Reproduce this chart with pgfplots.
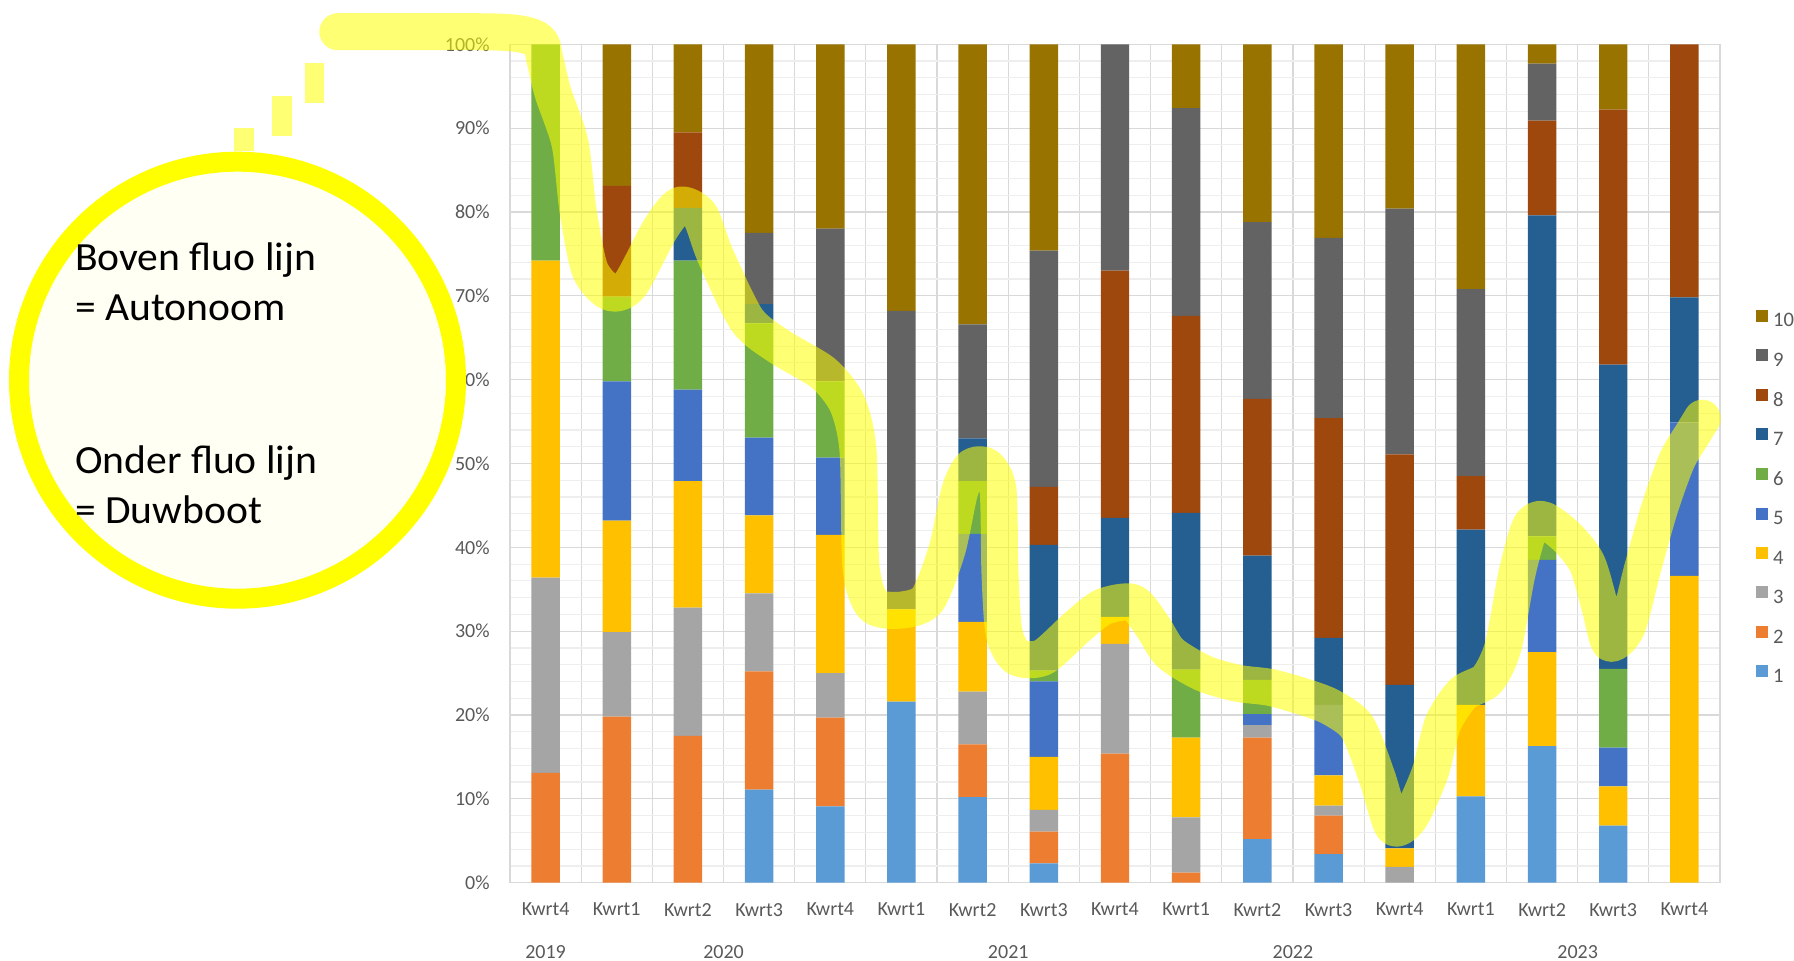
\documentclass[border=0pt]{standalone}
\usepackage{pgfplots}
\pgfplotsset{compat=1.18}
\usepackage{pgfplotstable}
\usepackage{fontspec}
\setmainfont{Carlito}
\newfontfamily\circfont[FakeStretch=1.04]{Carlito}
\definecolor{c1}{HTML}{5B9BD5}
\definecolor{c2}{HTML}{ED7D31}
\definecolor{c3}{HTML}{A5A5A5}
\definecolor{c4}{HTML}{FFC000}
\definecolor{c5}{HTML}{4472C4}
\definecolor{c6}{HTML}{70AD47}
\definecolor{c7}{HTML}{255E91}
\definecolor{c8}{HTML}{9E480E}
\definecolor{c9}{HTML}{636363}
\definecolor{c10}{HTML}{997300}
\definecolor{tickc}{HTML}{595959}
\definecolor{gmaj}{HTML}{D9D9D9}
\definecolor{gmin}{HTML}{EEEEEE}
\definecolor{hl}{HTML}{FFFF00}
\definecolor{cfill}{HTML}{FFFFF4}

\pgfplotstableread{
i  s1   s2   s3   s4   s5   s6   s7   s8   s9   s10
0  0    13.1 23.3 37.8 0    25.8 0    0    0    0
1  0    19.8 10.1 13.3 16.6 10.1 0    13.2 0    16.9
2  0    17.5 15.3 15.1 10.9 15.4 6.3  9.0  0    10.5
3  11.1 14.1 9.3  9.3  9.3  13.6 2.3  0    8.5  22.5
4  9.1  10.6 5.3  16.5 9.2  9.1  0    0    18.2 22.0
5  21.6 0    0    11.0 0    0    0    0    35.6 31.8
6  10.2 6.3  6.3  8.3  10.5 6.3  5.1  0    13.6 33.4
7  2.3  3.8  2.6  6.3  9.0  1.3  15.0 6.9  28.2 24.6
8  0    15.4 13.1 3.2  0    0    11.8 29.5 27.0 0
9  0    1.2  6.6  9.5  0    8.1  18.7 23.5 24.8 7.6
10 5.2  12.1 1.5  0    1.3  4.1  14.8 18.7 21.1 21.2
11 3.4  4.6  1.2  3.6  8.4  0    8.0  26.2 21.5 23.1
12 0    0    1.9  2.2  0    0    19.5 27.5 29.3 19.6
13 10.3 0    0    10.9 0    0    20.9 6.4  22.3 29.2
14 16.3 0    0    11.2 11.0 2.8  38.3 11.3 6.8  2.3
15 6.8  0    0    4.7  4.6  9.4  36.3 30.4 0    7.8
16 0    0    0    36.6 18.3 0    14.9 30.2 0    0
}\data

\begin{document}
\begin{tikzpicture}
\path[use as bounding box] (0,0) rectangle (897bp,480.5bp);
\begin{axis}[
  at={(255bp,39.15bp)}, anchor=south west,
  width=605bp, height=419.2bp, scale only axis,
  ybar stacked, bar width=0.4,
  xmin=-0.5, xmax=16.5, ymin=0, ymax=100,
  clip=false,
  xtick={0,...,16},
  xticklabels={Kwrt4,Kwrt1,Kwrt2,Kwrt3,Kwrt4,Kwrt1,Kwrt2,Kwrt3,Kwrt4,Kwrt1,Kwrt2,Kwrt3,Kwrt4,Kwrt1,Kwrt2,Kwrt3,Kwrt4},
  minor xtick={-0.5,0.5,...,16.5},
  ytick={0,10,...,100},
  minor ytick={2,4,6,8,12,14,16,18,22,24,26,28,32,34,36,38,42,44,46,48,52,54,56,58,62,64,66,68,72,74,76,78,82,84,86,88,92,94,96,98},
  yticklabel={\pgfmathparse{int(round(\tick))}\pgfmathresult\%},
  xminorgrids=true, ymajorgrids=true, yminorgrids=true,
  major y grid style={gmaj, line width=0.6bp},
  minor y grid style={gmin, line width=0.6bp},
  minor x grid style={gmaj, line width=0.6bp},
  axis line style={gmaj, line width=0.6bp},
  tick style={draw=none},
  ticklabel style={font=\fontsize{10bp}{12bp}\selectfont, text=tickc},
  yticklabel style={inner sep=0pt, anchor=east, xshift=-10bp},
  xticklabel style={inner sep=0pt, anchor=north, yshift=-10bp},
  legend image code/.code={\fill[#1] (0bp,0bp) rectangle (6bp,6bp);},
  reverse legend,
  legend cell align=left,
  legend style={draw=none, fill=none, at={(1,0.4594)}, anchor=west, xshift=18bp,
    inner sep=0pt, row sep=9.65bp, font=\fontsize{10.3bp}{12bp}\selectfont, text=tickc,
    nodes={inner sep=0pt}},
]
\addplot[fill=c1, draw=none] table[x=i,y=s1]{\data};
\addplot[fill=c2, draw=none] table[x=i,y=s2]{\data};
\addplot[fill=c3, draw=none] table[x=i,y=s3]{\data};
\addplot[fill=c4, draw=none] table[x=i,y=s4]{\data};
\addplot[fill=c5, draw=none] table[x=i,y=s5]{\data};
\addplot[fill=c6, draw=none] table[x=i,y=s6]{\data};
\addplot[fill=c7, draw=none] table[x=i,y=s7]{\data};
\addplot[fill=c8, draw=none] table[x=i,y=s8]{\data};
\addplot[fill=c9, draw=none] table[x=i,y=s9]{\data};
\addplot[fill=c10, draw=none] table[x=i,y=s10]{\data};
\legend{\ 1,\ 2,\ 3,\ 4,\ 5,\ 6,\ 7,\ 8,\ 9,\ 10}
\foreach \yr/\xx in {2019/0,2020/2.5,2021/6.5,2022/10.5,2023/14.5}{
  \edef\temp{\noexpand\node[anchor=north, inner sep=0pt, yshift=-31bp, text=tickc, font=\noexpand\fontsize{10bp}{12bp}\noexpand\selectfont] at (axis cs:\xx,0) {\yr};}
  \temp
}
\end{axis}
\begin{axis}[
  at={(255bp,39.15bp)}, anchor=south west,
  width=605bp, height=419.2bp, scale only axis,
  xmin=-0.5, xmax=16.5, ymin=0, ymax=100,
  axis lines=none, ticks=none, clip=false,
]
\addplot[hl, opacity=0.55, line width=18.5bp, smooth, tension=0.45, line cap=round, line join=round, no marks] coordinates {
(-2.92,101.5) (-0.64,101.45) (-0.107,100.5) (-0.008,98.1) (0.104,94.2) (0.343,88.2) (0.455,80.2) (0.624,73.1) (0.905,70.4) (1.186,71.3) (1.607,77.9) (1.888,80.8) (2.169,79.6) (2.380,74.9) (2.830,67.1) (3.293,63.9) (3.898,60.8) (4.235,57.2) (4.389,51.6) (4.431,37.7) (4.600,33.1) (4.979,32.5) (5.359,33.7) (5.640,39.7) (5.822,46.8) (5.991,49.6) (6.202,49.6) (6.356,46.8) (6.384,36.9) (6.441,29.8) (6.623,26.9) (6.989,26.9) (7.466,30.5) (7.831,32.9) (8.253,33.4) (8.534,30.5) (8.773,27.4) (9.236,25.0) (9.714,23.8) (10.177,23.3) (10.641,22.2) (11.020,21.0) (11.400,18.6) (11.681,12.6) (11.906,6.7) (12.145,7.8) (12.426,13.1) (12.608,19.0) (12.889,22.6) (13.227,24.2) (13.451,28.1) (13.648,36.9) (13.831,42.4) (14.013,43.3) (14.351,41.2) (14.632,38.1) (14.814,32.9) (14.955,28.6) (15.194,30.5) (15.419,37.7) (15.657,44.8) (15.896,50.4) (16.121,53.6) (16.25,55.4)
};
\end{axis}
% annotation: marker squares and circle
\fill[hl, opacity=0.55] (152.3bp,448.85bp) rectangle (162.15bp,429.1bp);
\fill[hl, opacity=0.55] (136bp,432.5bp) rectangle (146bp,412.7bp);
\fill[hl, opacity=0.55] (117bp,416.65bp) rectangle (127bp,404.8bp);
\draw[hl, line width=10bp, fill=cfill] (118.75bp,290.4bp) circle [radius=109.25bp];
\begin{scope}[every node/.style={anchor=base west, inner sep=0pt, font=\circfont\fontsize{20bp}{24bp}\selectfont}]
\node at (37.4bp,345.05bp) {Boven fluo lijn};
\node at (37.4bp,320bp) {= Autonoom};
\node at (37.4bp,243.85bp) {Onder fluo lijn};
\node at (37.4bp,218.55bp) {= Duwboot};
\end{scope}
\end{tikzpicture}
\end{document}
